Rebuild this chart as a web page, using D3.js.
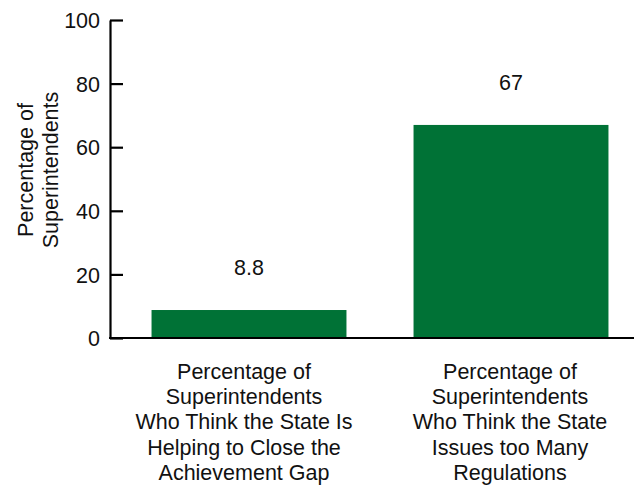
<!DOCTYPE html>
<html>
<head>
<meta charset="utf-8">
<script src="https://cdn.jsdelivr.net/npm/d3@7"></script>
<style>
  html, body { margin: 0; padding: 0; background: #fff; }
  svg { display: block; font-family: "Liberation Sans", Arial, sans-serif; }
</style>
</head>
<body>
<svg id="chart" width="634" height="496"></svg>
<script>
// Survey results: share of superintendents giving each answer
const categories = [
  ["Percentage of", "Superintendents", "Who Think the State Is", "Helping to Close the", "Achievement Gap"],
  ["Percentage of", "Superintendents", "Who Think the State", "Issues too Many", "Regulations"]
];
const values = [8.8, 67];
const valueLabels = ["8.8", "67"];
const yTicks = [0, 20, 40, 60, 80, 100];
const yTitle = ["Percentage of", "Superintendents"];

const svg = d3.select("#chart");
const W = 634, H = 496;
const axisX = 110, baseY = 338, topY = 20;
const barColor = "#007236";
const fontFamily = "Liberation Sans, Arial, sans-serif";
const fontSize = 21.5;

const y = d3.scaleLinear().domain([0, 100]).range([baseY, topY]);
const x = d3.scaleBand()
  .domain(d3.range(values.length))
  .range([118, 642])
  .paddingInner(0.256)
  .paddingOuter(0.128);

// bars
svg.append("g").selectAll("rect")
  .data(values)
  .join("rect")
  .attr("x", (d, i) => x(i))
  .attr("y", d => y(d))
  .attr("width", x.bandwidth())
  .attr("height", d => y(0) - y(d))
  .attr("fill", barColor);

// value labels
svg.append("g").selectAll("text")
  .data(values)
  .join("text")
  .attr("x", (d, i) => x(i) + x.bandwidth() / 2)
  .attr("y", d => y(d) - 35)
  .attr("text-anchor", "middle")
  .attr("font-size", fontSize)
  .attr("fill", "#111")
  .text((d, i) => valueLabels[i]);

// y axis with ticks pointing into the plot
const yAxis = d3.axisLeft(y).tickValues(yTicks).tickSize(-13).tickPadding(10).tickSizeOuter(0);
const gy = svg.append("g").attr("transform", `translate(${axisX},0)`).call(yAxis);
gy.select(".domain").attr("stroke", "#000").attr("stroke-width", 2.2);
gy.selectAll(".tick line").attr("stroke", "#000").attr("stroke-width", 2.2);
gy.selectAll(".tick text")
  .attr("font-size", fontSize)
  .attr("font-family", fontFamily)
  .attr("fill", "#111")
  .attr("dy", "0.36em");

// baseline
svg.append("line")
  .attr("x1", axisX - 1).attr("x2", W)
  .attr("y1", baseY).attr("y2", baseY)
  .attr("stroke", "#000").attr("stroke-width", 2.2);

// category labels
const catG = svg.append("g").selectAll("text")
  .data(categories)
  .join("text")
  .attr("text-anchor", "middle")
  .attr("font-size", fontSize)
  .attr("fill", "#111");
catG.each(function(lines, i) {
  d3.select(this).selectAll("tspan")
    .data(lines)
    .join("tspan")
    .attr("x", x(i) + x.bandwidth() / 2 - (i === 0 ? 5 : 1))
    .attr("y", (l, j) => 379 + j * 25.2)
    .text(l => l);
});

// y axis title
const yt = svg.append("text")
  .attr("transform", "translate(0,170) rotate(-90)")
  .attr("text-anchor", "middle")
  .attr("font-size", fontSize)
  .attr("fill", "#111");
yt.selectAll("tspan")
  .data(yTitle)
  .join("tspan")
  .attr("x", 0)
  .attr("y", (l, j) => 33 + j * 25)
  .text(l => l);
</script>
</body>
</html>
